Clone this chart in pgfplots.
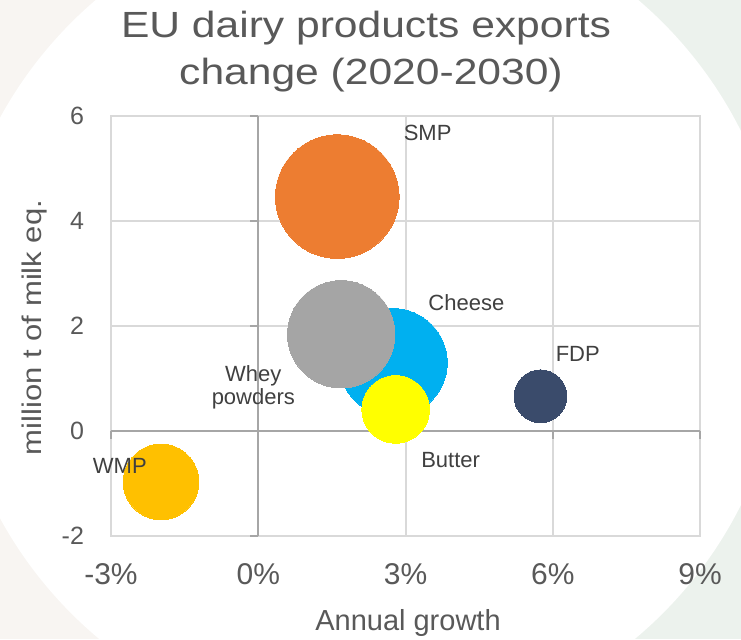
\documentclass[border=0pt]{standalone}
\usepackage{pgfplots}
\pgfplotsset{compat=1.18}
\usepackage{fontspec}
\setmainfont{Liberation Sans}
\newfontfamily\titlefont[FakeStretch=1.17]{Liberation Sans}
\newfontfamily\ylabfont[FakeStretch=1.15]{Liberation Sans}
\definecolor{bgbeige}{HTML}{F8F5F2}
\definecolor{bggreen}{HTML}{ECF2ED}
\definecolor{gridgrey}{HTML}{D9D9D9}
\definecolor{zerogrey}{HTML}{A6A6A6}
\definecolor{tickgrey}{HTML}{595959}
\definecolor{labgrey}{HTML}{404040}
\definecolor{cSMP}{HTML}{ED7D31}
\definecolor{cCheese}{HTML}{00B0F0}
\definecolor{cWhey}{HTML}{A5A5A5}
\definecolor{cButter}{HTML}{FFFF00}
\definecolor{cFDP}{HTML}{3A4B6B}
\definecolor{cWMP}{HTML}{FFC000}
\tikzset{lab/.style={font=\fontsize{11}{11.5}\selectfont, text=labgrey, align=center}}
\begin{document}
\begin{tikzpicture}
\useasboundingbox (0,0) rectangle (370.5pt,319.5pt);
\begin{scope}
\clip (0,0) rectangle (370.5pt,319.5pt);
\fill[bgbeige] (0,0) rectangle (185pt,319.5pt);
\fill[bggreen] (185pt,0) rectangle (370.5pt,319.5pt);
\fill[white] (183.5pt,160.5pt) circle (209pt);
\end{scope}
\begin{axis}[at={(55.5pt,51.5pt)}, anchor=south west, scale only axis,
  width=294.5pt, height=210.15pt,
  xmin=-3, xmax=9, ymin=-2, ymax=6,
  xtick={-3,0,3,6,9}, xticklabels={-3\%,0\%,3\%,6\%,9\%},
  ytick={-2,0,2,4,6}, yticklabels={-2,0,2,4,6},
  major tick length=0pt,
  grid=major, grid style={gridgrey, line width=1pt},
  axis line style={gridgrey, line width=1pt},
  xticklabel style={font=\fontsize{15}{18}\selectfont, text=tickgrey, yshift=-10pt},
  yticklabel style={font=\fontsize{12.5}{15}\selectfont, text=tickgrey, xshift=-10pt},
  clip=false]
\draw[zerogrey, line width=1pt] (axis cs:0,-2) -- (axis cs:0,6);
\draw[zerogrey, line width=1pt] (axis cs:-3,0) -- (axis cs:9,0);
\pgfplotsinvokeforeach{-2,0,2,4,6}{\draw[zerogrey, line width=1pt] (axis cs:0,#1) -- ([xshift=-4pt]axis cs:0,#1);}
\pgfplotsinvokeforeach{-3,0,3,6,9}{\draw[zerogrey, line width=1pt] (axis cs:#1,0) -- ([yshift=-4pt]axis cs:#1,0);}
% SMP
\addplot[only marks, mark=*, color=cSMP, mark size=30.9pt, mark options={draw=cSMP, fill=cSMP, line width=0pt}] coordinates {(1.61,4.46)};
% Cheese
\addplot[only marks, mark=*, color=cCheese, mark size=27pt, mark options={draw=cCheese, fill=cCheese, line width=0pt}] coordinates {(2.75,1.30)};
% Whey powders
\addplot[only marks, mark=*, color=cWhey, mark size=26.85pt, mark options={draw=cWhey, fill=cWhey, line width=0pt}] coordinates {(1.69,1.84)};
% Butter
\addplot[only marks, mark=*, color=cButter, mark size=16.9pt, mark options={draw=cButter, fill=cButter, line width=0pt}] coordinates {(2.80,0.41)};
% FDP
\addplot[only marks, mark=*, color=cFDP, mark size=13.2pt, mark options={draw=cFDP, fill=cFDP, line width=0pt}] coordinates {(5.75,0.66)};
% WMP
\addplot[only marks, mark=*, color=cWMP, mark size=18.9pt, mark options={draw=cWMP, fill=cWMP, line width=0pt}] coordinates {(-1.98,-0.97)};
% data labels
\addplot[only marks, mark=none, point meta=explicit symbolic, nodes near coords,
  every node near coord/.style={lab, anchor=center}]
  coordinates {(3.45,5.67) [SMP] (4.24,2.44) [Cheese] (6.51,1.46) [FDP]
    (-0.10,1.05) [Whey] (-0.10,0.61) [powders] (3.92,-0.56) [Butter] (-2.82,-0.67) [WMP]};
\end{axis}
\node[anchor=base, font=\titlefont\fontsize{18.2}{22}\selectfont, text=tickgrey] at (183pt,300.5pt) {EU dairy products exports};
\node[anchor=base, font=\titlefont\fontsize{18.2}{22}\selectfont, text=tickgrey] at (185.5pt,277pt) {change (2020-2030)};
\node[anchor=base, font=\fontsize{14.5}{17}\selectfont, text=tickgrey] at (204pt,4.5pt) {Annual growth};
\node[rotate=90, anchor=base, font=\ylabfont\fontsize{13.5}{16}\selectfont, text=tickgrey] at (21pt,155.75pt) {million t of milk eq.};
\end{tikzpicture}
\end{document}
